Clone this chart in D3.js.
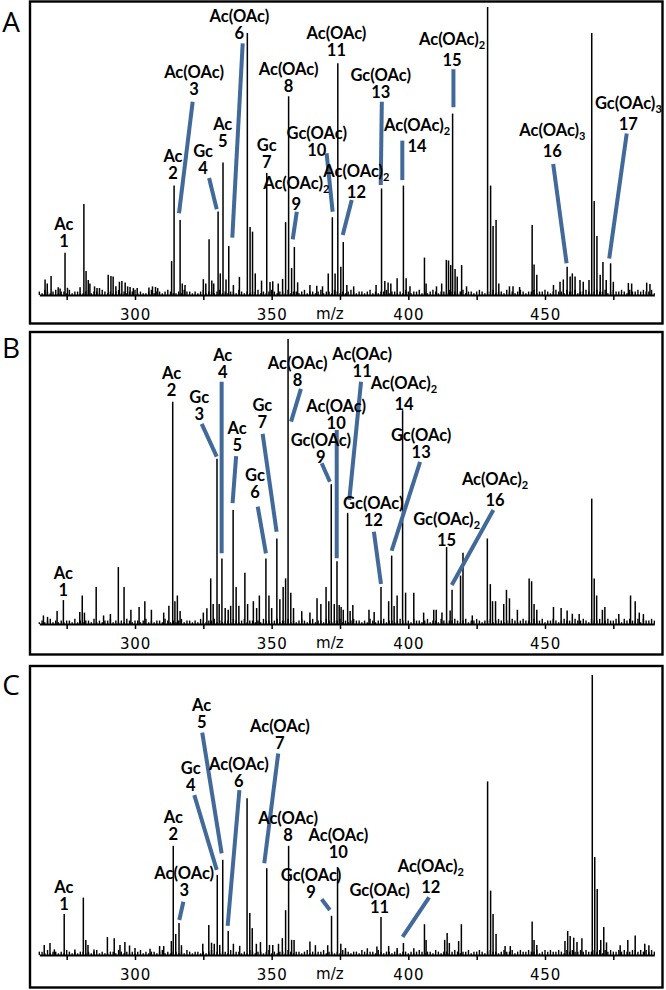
<!DOCTYPE html>
<html><head><meta charset="utf-8">
<script src="https://cdn.jsdelivr.net/npm/d3@7"></script>
<style>
html,body{margin:0;padding:0;background:#fff;}
svg{display:block;}
</style></head>
<body>
<svg id="chart" width="666" height="990"></svg>
<script>
// ---------- DATA ----------
const mzDomain = [265, 490];
const tickValues = [275, 300, 325, 350, 375, 400, 425, 450, 475];
const tickLabels = {300: "300", 350: "350", 400: "400", 450: "450"};
const axisTitle = "m/z";
const panelNames = ["A", "B", "C"];

// peaks: [m/z, relative intensity %]
const peaksA = [
  [267.1,5.4],[267.9,4],[269.3,6.6],[271.9,2.7],[272.6,2.3],[274.4,14.7],[275.3,2.5],[279.9,2.7],
  [281.3,31.6],[282.1,8.3],[282.9,5.2],[283.5,4],[285.2,3],[286.1,2.4],[287,2.4],
  [290.2,7],[291.2,6.6],[292,6.4],[293,3],[294.3,4.6],[295.2,4.9],[296.4,4.3],[297.3,3],[298.2,2.8],[299.4,2.4],[300.8,2.4],
  [305.1,2.6],[306.4,3],[307.5,2.8],[308.3,2.4],[313.4,11.8],[314.3,38],[316.5,26],[317.3,4],[318.3,3.5],
  [325,5.5],[325.9,4],[327.1,19.4],[328.1,5],[328.8,4],[330.4,29],[331.2,7.5],[332.2,46],[333.3,5.4],[334.3,17],
  [336,3.5],[338.2,6.3],[341.1,91],[342.1,23.6],[343,22],[344,7.5],[346.3,5],[348.2,42.4],[349.4,4.5],[350.4,4.8],
  [352.4,4],[354,5.6],[355.1,25.3],[356.2,69],[357.3,9.4],[358.3,16.7],[359.5,4.4],[364,3.5],[366.5,3.2],[368.6,3],
  [370.7,7.5],[372.2,27],[373.2,7.5],[374.2,80.5],[375.3,9.8],[376.2,18.4],[377.5,3.5],[380,3],
  [388.2,3.5],[390.2,37],[391.4,4.9],[392.6,4.3],[393.6,4],[395.9,5.8],[398.2,38],[399.2,5.8],[400.6,3],
  [405.9,13],[406.5,4],[410.3,3],[412.2,4],[413.9,12.2],[414.7,12],[415.5,10.4],[416.2,63],[417.1,9],[417.9,6.4],
  [419.5,10.4],[421.3,3],[429,100],[430.1,38],[431,24],[432.1,26],[433.1,4],[437,3],[438.3,3],[440.7,2.8],
  [445.3,24.3],[446,10.6],[447,7],[453.1,3.5],[455.5,4.6],[456.7,5.4],[458.1,9.8],[459.2,6.4],[460,7.5],[461,6.4],
  [462.8,5.2],[464,4.6],[466.1,5.2],[467.1,91],[468,32.6],[469,20.5],[470.2,7],[471.2,11.5],[472.4,5.2],[474,11],
  [475,4.6],[480.5,4.2],[481.7,4],[487.2,4.3],[488.4,3.8]
];
const peaksB = [
  [266.5,3],[268,2.5],[271.5,4.6],[273.8,8.4],[279.8,4.2],[280.7,10],[281.5,4],[285.8,13],[288.5,3],[291,3.5],
  [293.9,20],[296,13],[298.5,5],[301.5,6],[303.6,8],[306,5],[310.5,4],[312.4,6.4],[313.8,78],[314.6,8],[315.5,10],
  [316.5,4.6],[325,4],[326.3,5.5],[327.7,16],[328.6,7],[330,58],[330.8,7],[331.8,23],[333,5.6],[334.1,5],[335,6.4],
  [335.9,40],[337,13],[338,6.4],[340.2,18],[341.2,7],[343.3,8],[344.5,5.6],[345.5,10],[347.9,23],[349,10],[350,5.6],
  [351.9,30],[353,8.7],[354.2,13],[355.1,16],[356,100],[357,11],[358,5.6],[361,4.5],[364,4],[366.6,9],[368,7],
  [369.9,13],[370.9,8],[371.8,49],[372.9,7],[373.9,22],[374.7,6.7],[375.4,6],[376.2,5],[377.8,39],[378.7,4.6],
  [379.7,6.7],[385.6,5],[387.5,4.2],[390,13],[392.8,8],[393.9,24],[394.8,6.3],[395.9,10],[397.9,75],[399,11],
  [402,11],[405.6,4],[409.3,5],[410.2,5],[412.3,4],[414,27],[415.3,4.7],[416,12],[419.1,17],[420,25],[423.4,3],
  [428.9,30],[430,14],[430.8,8],[431.9,8],[434.9,7],[435.9,12],[437,9],[439.9,5],[444.2,16],[445.1,15],[446,7],
  [447,5],[453.1,6],[455.9,5.6],[458.1,4.7],[460,3.6],[462.5,3.5],[467.1,44],[468,16],[468.9,10],[471,5],[471.9,6],
  [477,3.5],[481.3,10],[483,8],[484.5,4],[486,3.5]
];
const peaksC = [
  [266.8,3.6],[268.9,4.3],[270.5,2],[274.1,14.6],[278,2],[281.1,20.5],[282,5.4],[282.8,3.6],[285,2],[289.9,6.4],
  [292.4,6],[294.5,3.6],[296.3,4.6],[298,3.4],[300,2.5],[305.5,2.2],[309,3.2],[310.5,3.2],[313.3,5],[314,39],
  [314.9,7.5],[316.1,11.4],[317,3.5],[324.8,4],[327,10.7],[328,4.4],[329,4],[330.1,28.6],[331,3.6],[332.1,34],
  [334.1,8.6],[336,4],[338.3,3.3],[341,56],[342,15],[342.9,9.6],[344.4,4],[345.9,4.6],[348.2,31],[349.2,3.6],
  [350.4,3.6],[352.5,4],[353.9,6],[355.1,16],[356.2,39],[357.3,5.4],[358.2,5.4],[364,4.8],[366,3.5],[370.5,3.5],
  [371.9,14],[374.1,31.4],[375.3,4],[377,2.5],[385,2.4],[388.5,3],[390,13.6],[392.8,3.2],[395.9,2.5],[398.2,4.3],
  [402,2.4],[405.9,11],[406.5,5.4],[413.3,5.4],[414.2,7.9],[415,4.3],[418.4,5],[419.4,11],[429,62],[430.1,23],
  [431,14.6],[432.1,7.5],[435.4,3.2],[437.3,3.2],[445.3,12],[446,5.4],[447,3.6],[457.3,5],[458.3,8.6],[459.2,6.8],
  [460.5,6.2],[461.7,4.6],[463.5,6],[467.3,100],[468.2,35],[469.1,23.6],[470.4,5.4],[471.5,10],[472.5,4.5],
  [477.5,3.5],[480.3,5.4],[483,7],[486.5,4],[488,3.5]
];

// baseline noise, one value per m/z unit from 265 to 490 (in steps of noiseUnit %)
const noiseUnit = 0.6;
const noiseA = [2,1,3,2,1,2,3,1,2,2,1,3,1,2,2,1,1,2,3,1,
 2,2,1,3,2,1,2,1,2,3,1,2,1,2,2,3,1,2,1,1,
 2,3,1,2,2,1,2,3,2,1,1,2,1,3,2,2,1,2,1,2,
 3,1,2,2,1,2,3,1,2,1,2,2,1,3,2,1,2,1,2,2,
 3,1,2,1,2,3,2,1,2,2,1,3,1,2,2,1,2,3,1,2,
 2,1,2,3,1,2,2,1,3,2,1,2,1,2,3,2,1,2,2,1,
 2,3,1,2,1,2,2,3,1,2,2,1,2,1,3,2,1,2,2,3,
 1,2,1,2,3,2,1,2,2,1,3,2,2,1,2,3,1,2,2,1,
 2,3,2,1,2,2,3,1,2,2,1,3,2,2,1,2,3,2,1,2,
 2,3,1,2,2,3,2,1,2,3,2,2,1,3,2,2,3,1,2,2,
 3,2,1,2,3,2,2,3,1,2,3,2,2,3,2,1,3,2,2,3,
 2,3,2,2,3,1];
const noiseB = [1,2,1,2,3,1,2,1,2,1,2,2,1,3,1,2,1,2,2,1,
 3,1,2,1,2,2,3,1,2,1,2,1,3,2,1,2,2,1,2,3,
 1,2,1,2,2,1,3,2,1,2,1,2,3,1,2,2,1,2,1,3,
 2,1,2,2,3,1,2,1,2,2,1,3,2,1,2,3,1,2,2,1,
 2,1,3,2,2,1,2,3,1,2,2,3,1,2,1,2,3,2,1,2,
 3,1,2,2,1,3,2,1,2,2,3,1,2,1,2,3,2,2,1,2,
 1,3,2,1,2,2,3,1,2,2,1,2,3,2,1,2,1,3,2,2,
 1,2,3,1,2,2,1,3,2,1,2,2,3,2,1,2,3,1,2,2,
 3,2,1,2,2,3,1,2,3,2,1,2,2,3,2,1,2,3,2,2,
 1,3,2,2,3,1,2,2,3,2,1,2,3,2,2,1,3,2,2,3,
 2,1,3,2,2,3,1,2,3,2,2,3,2,1,3,2,3,2,2,3,
 1,3,2,2,3,2];
const noiseC = [2,2,1,3,1,2,2,1,2,1,3,2,1,2,1,2,2,1,2,1,
 2,3,1,2,1,1,2,2,1,3,2,1,2,1,2,1,2,3,1,2,
 1,2,2,1,2,3,1,2,1,2,2,1,2,1,3,2,1,2,2,1,
 2,1,2,3,1,2,1,2,2,1,3,1,2,2,1,2,1,3,2,1,
 2,2,1,2,3,1,2,1,2,2,1,3,2,1,2,2,1,2,3,1,
 2,1,2,2,3,1,2,2,1,2,1,3,2,2,1,2,2,1,3,2,
 1,2,2,1,3,2,1,2,2,1,2,3,1,2,2,1,2,1,2,3,
 2,1,2,2,1,3,2,1,2,2,1,2,3,2,1,2,2,3,1,2,
 2,3,2,1,2,3,2,2,1,2,3,2,2,3,1,2,3,2,2,3,
 2,2,3,1,2,3,2,3,2,2,3,2,1,3,2,3,2,2,3,2,
 3,2,2,3,2,3,1,3,2,3,2,2,3,2,3,2,2,3,3,2,
 3,2,3,2,3,2];

// annotations: [name, subscript, number, label m/z, label %, leader [mz1,%1,mz2,%2] or null]
const labelsA = [
  ["Ac","", "1", 274.0,22.6,null],
  ["Ac","", "2", 313.9,46.2,null],
  ["Ac(OAc)","", "3", 321.6,75.3,[321.1,67.1,316.1,28.4]],
  ["Gc","", "4", 324.9,47.9,[327.1,40.6,329.9,29.8]],
  ["Ac","", "5", 332.1,57.3,null],
  ["Ac(OAc)","", "6", 338.2,94.9,[339.4,87.4,335.6,19.9]],
  ["Gc","", "7", 348.2,50.1,null],
  ["Ac(OAc)","", "8", 356.2,76.4,null],
  ["Ac(OAc)","2","9", 359.0,36.8,[359.2,28.9,357.7,19.3]],
  ["Gc(OAc)","", "10",366.5,54.2,[370.1,49.2,372.3,28.9]],
  ["Ac(OAc)","", "11",373.7,88.8,null],
  ["Ac(OAc)","2","12",381.0,41.0,[379.3,33.0,376.0,20.8]],
  ["Gc(OAc)","", "13",389.9,74.3,[390.3,67.1,389.9,38.2]],
  ["Ac(OAc)","2","14",403.2,57.0,[397.8,53.6,397.8,39.9]],
  ["Ac(OAc)","2","15",416.0,86.9,[416.5,78.4,416.5,65.2]],
  ["Ac(OAc)","3","16",452.7,55.3,[453.0,45.5,457.9,11.0]],
  ["Gc(OAc)","3","17",480.5,64.5,[479.9,56.1,473.5,12.7]]
];
const labelsB = [
  ["Ac","", "1", 273.8,15.8,null],
  ["Ac","", "2", 313.4,86.0,null],
  ["Gc","", "3", 323.5,77.5,[324.4,70.2,329.9,58.7]],
  ["Ac","", "4", 332.1,92.3,[331.7,85.0,331.7,24.8]],
  ["Ac","", "5", 337.4,66.7,[337.0,58.9,335.7,42.4]],
  ["Gc","", "6", 343.9,50.2,[344.9,41.2,347.9,24.8]],
  ["Gc","", "7", 346.6,74.7,[346.7,66.7,351.8,32.4]],
  ["Ac(OAc)","", "8", 359.5,89.5,[360.7,82.5,357.1,71.0]],
  ["Gc(OAc)","", "9", 368.0,62.5,[368.3,56.4,371.3,49.9]],
  ["Ac(OAc)","", "10",373.6,74.4,[373.8,68.1,373.8,23.1]],
  ["Ac(OAc)","", "11",383.1,92.6,[382.7,85.0,378.4,43.5]],
  ["Gc(OAc)","", "12",387.2,40.4,[387.4,32.4,390.0,14.0]],
  ["Gc(OAc)","", "13",404.7,64.2,[404.3,56.9,393.9,25.7]],
  ["Ac(OAc)","2","14",398.4,82.5,null],
  ["Gc(OAc)","2","15",414.0,34.7,null],
  ["Ac(OAc)","2","16",431.7,48.8,[431.1,40.0,415.9,13.7]]
];
const labelsC = [
  ["Ac","", "1", 274.0,22.1,null],
  ["Ac","", "2", 314.0,47.1,null],
  ["Ac(OAc)","", "3", 318.0,27.1,[317.7,19.0,316.2,12.5]],
  ["Gc","", "4", 320.4,64.6,[321.7,57.1,329.9,30.4]],
  ["Ac","", "5", 324.4,87.1,[324.6,79.4,331.7,36.3]],
  ["Ac(OAc)","", "6", 338.0,66.1,[338.2,58.9,333.9,10.4]],
  ["Ac(OAc)","", "7", 353.0,79.6,[352.4,72.0,347.3,32.8]],
  ["Ac(OAc)","", "8", 356.0,46.8,null],
  ["Gc(OAc)","", "9", 364.4,26.4,[368.3,19.9,371.3,16.1]],
  ["Ac(OAc)","", "10",374.4,40.7,null],
  ["Gc(OAc)","", "11",389.5,21.1,null],
  ["Ac(OAc)","2","12",408.2,29.6,[407.6,20.6,397.9,6.5]]
];

// ---------- LAYOUT ----------
const layout = [
  {boxTop: 1.5, boxBottom: 323.5, base: 295, H: 288, letterY: 32},
  {boxTop: 332, boxBottom: 654.5, base: 624, H: 285, letterY: 358},
  {boxTop: 666, boxBottom: 987.5, base: 955, H: 280, letterY: 695}
];
const boxLeft = 30, boxRight = 662.5;
const leaderColor = "#41699a";
const labelFont = "Lato, 'Open Sans', sans-serif";

const svg = d3.select("#chart");
const x = d3.scaleLinear().domain(mzDomain).range([39.33, 654.33]);

const allPeaks = [peaksA, peaksB, peaksC];
const allNoise = [noiseA, noiseB, noiseC];
const allLabels = [labelsA, labelsB, labelsC];

layout.forEach((L, i) => {
  const g = svg.append("g");
  const y = d3.scaleLinear().domain([0, 100]).range([L.base, L.base - L.H]);

  // frame
  g.append("rect")
    .attr("x", boxLeft).attr("y", L.boxTop)
    .attr("width", boxRight - boxLeft).attr("height", L.boxBottom - L.boxTop)
    .attr("fill", "none").attr("stroke", "#000").attr("stroke-width", 2.4);

  // panel letter
  svg.append("text").attr("x", 11).attr("y", L.letterY)
    .attr("text-anchor", "middle")
    .attr("font-family", "'Open Sans', 'Liberation Sans', sans-serif")
    .attr("font-size", 28).attr("fill", "#000").text(panelNames[i]);

  // noise
  const noise = allNoise[i].map((v, k) => [mzDomain[0] + k, v * noiseUnit]);
  g.append("g").selectAll("line").data(noise).join("line")
    .attr("x1", d => x(d[0])).attr("x2", d => x(d[0]))
    .attr("y1", y(0)).attr("y2", d => y(d[1]))
    .attr("stroke", "#000").attr("stroke-width", 1.4);

  // peaks
  g.append("g").selectAll("line").data(allPeaks[i]).join("line")
    .attr("x1", d => x(d[0])).attr("x2", d => x(d[0]))
    .attr("y1", y(0)).attr("y2", d => y(d[1]))
    .attr("stroke", "#000").attr("stroke-width", 1.5);

  // axis
  const axis = d3.axisBottom(x).tickValues(tickValues)
    .tickFormat(d => tickLabels[d] || "")
    .tickSize(5).tickSizeOuter(0).tickPadding(9);
  const ag = g.append("g").attr("transform", `translate(0,${L.base})`).call(axis);
  ag.select(".domain").attr("stroke-width", 2);
  ag.selectAll(".tick line").attr("stroke-width", 1.5);
  ag.selectAll(".tick text").attr("font-family", "'DejaVu Sans', sans-serif")
    .attr("font-size", 15).attr("letter-spacing", 0.8).attr("fill", "#000");
  g.append("text").attr("x", x(371.3)).attr("y", L.base + 24)
    .attr("text-anchor", "middle").attr("font-family", "'DejaVu Sans', sans-serif")
    .attr("font-size", 15).attr("fill", "#000").text(axisTitle);

  // leader lines
  g.append("g").selectAll("line").data(allLabels[i].filter(d => d[5])).join("line")
    .attr("x1", d => x(d[5][0])).attr("y1", d => y(d[5][1]))
    .attr("x2", d => x(d[5][2])).attr("y2", d => y(d[5][3]))
    .attr("stroke", leaderColor).attr("stroke-width", 4);

  // labels
  const lg = g.append("g").attr("font-family", labelFont).attr("font-weight", 700)
    .attr("font-size", 16.5).attr("fill", "#000").attr("text-anchor", "middle");
  allLabels[i].forEach(d => {
    const t = lg.append("text").attr("x", x(d[3])).attr("y", y(d[4]));
    t.append("tspan").text(d[0]);
    if (d[1]) t.append("tspan").attr("font-size", 11).attr("dy", 4).text(d[1]);
    lg.append("text").attr("x", x(d[3])).attr("y", y(d[4]) + (d[1] ? 21 : 17)).text(d[2]);
  });
});
</script>
</body></html>
